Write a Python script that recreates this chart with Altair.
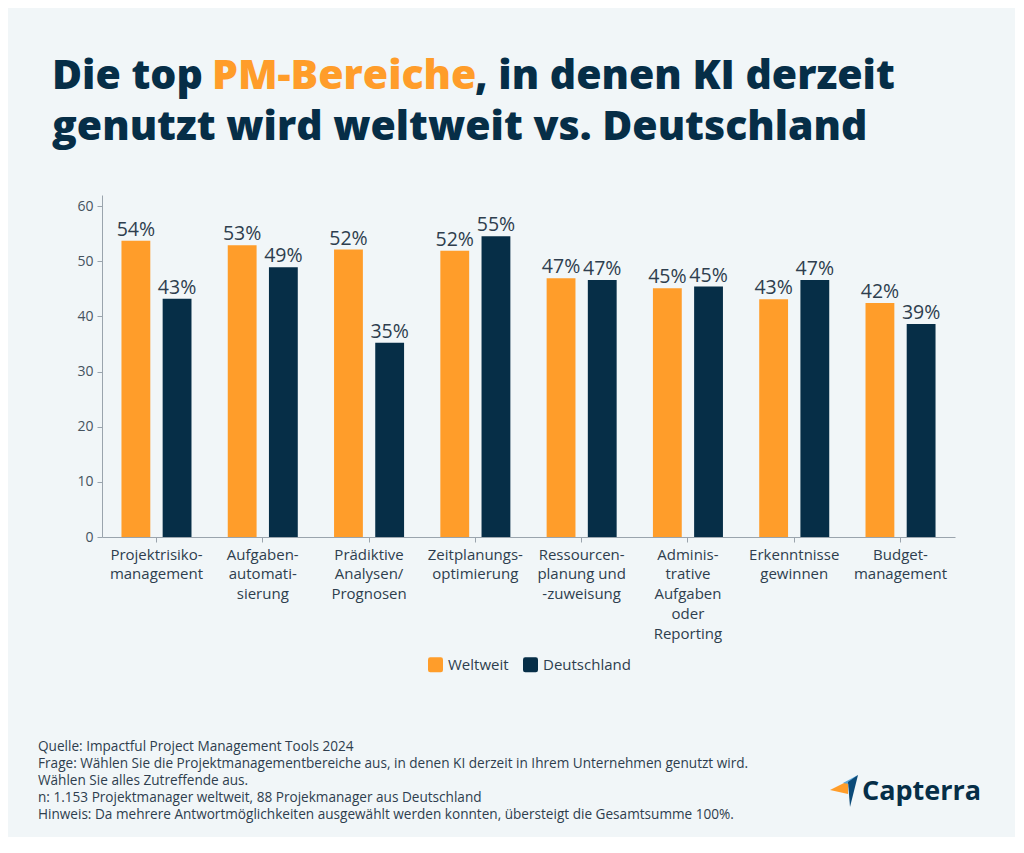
import altair as alt
import pandas as pd

categories = [
    "Projektrisiko-\nmanagement",
    "Aufgaben-\nautomati-\nsierung",
    "Prädiktive\nAnalysen/\nPrognosen",
    "Zeitplanungs-\noptimierung",
    "Ressourcen-\nplanung und\n-zuweisung",
    "Adminis-\ntrative\nAufgaben\noder\nReporting",
    "Erkenntnisse\ngewinnen",
    "Budget-\nmanagement",
]
series = ["Weltweit", "Deutschland"]
weltweit = [53.7, 52.9, 52.1, 51.9, 46.9, 45.1, 43.1, 42.4]
deutschland = [43.2, 48.9, 35.2, 54.5, 46.6, 45.4, 46.6, 38.6]
weltweit_labels = ["54%", "53%", "52%", "52%", "47%", "45%", "43%", "42%"]
deutschland_labels = ["43%", "49%", "35%", "55%", "47%", "45%", "47%", "39%"]
y_ticks = [0, 10, 20, 30, 40, 50, 60]

title_line1 = ["Die top ", "PM-Bereiche", ", in denen KI derzeit"]
title_line2 = "genutzt wird weltweit vs. Deutschland"
footer_lines = [
    "Quelle: Impactful Project Management Tools 2024",
    "Frage: Wählen Sie die Projektmanagementbereiche aus, in denen KI derzeit in Ihrem Unternehmen genutzt wird.",
    "Wählen Sie alles Zutreffende aus.",
    "n: 1.153 Projektmanager weltweit, 88 Projekmanager aus Deutschland",
    "Hinweis: Da mehrere Antwortmöglichkeiten ausgewählt werden konnten, übersteigt die Gesamtsumme 100%.",
]
brand = "Capterra"

ORANGE = "#FF9D2A"
NAVY = "#062E47"
TEXT = "#2E3E4E"
BG = "#F1F6F8"
FONT = "Open Sans"

rows = []
for i, c in enumerate(categories):
    rows.append({"cat": c, "series": "Weltweit", "value": weltweit[i], "label": weltweit_labels[i]})
    rows.append({"cat": c, "series": "Deutschland", "value": deutschland[i], "label": deutschland_labels[i]})
df = pd.DataFrame(rows)

W, H = 853, 342

rounded = "M-0.7,-1 L0.7,-1 Q1,-1 1,-0.7 L1,0.7 Q1,1 0.7,1 L-0.7,1 Q-1,1 -1,0.7 L-1,-0.7 Q-1,-1 -0.7,-1 Z"

x_enc = alt.X(
    "cat:N",
    sort=categories,
    scale=alt.Scale(paddingInner=0.225, paddingOuter=0.125),
    axis=alt.Axis(
        title=None,
        labelAngle=0,
        labelExpr="split(datum.label, '\\n')",
        labelFont=FONT,
        labelFontSize=15,
        labelColor=TEXT,
        labelLineHeight=19.8,
        labelBaseline="top",
        labelPadding=5,
        labelOverlap=False,
        tickSize=5,
        tickColor="#9AA4AD",
        domainColor="#9AA4AD",
        labelLimit=200,
    ),
)
y_enc = alt.Y(
    "value:Q",
    scale=alt.Scale(domain=[0, 62], nice=False),
    axis=alt.Axis(
        title=None,
        values=y_ticks,
        grid=False,
        labelFont=FONT,
        labelFontSize=14,
        labelColor="#45535F",
        labelPadding=4,
        tickSize=5,
        tickColor="#9AA4AD",
        domainColor="#9AA4AD",
    ),
)
xoff = alt.XOffset("series:N", sort=series, scale=alt.Scale(paddingInner=0.3, paddingOuter=0.15))

bars = alt.Chart(df).mark_bar().encode(
    x=x_enc,
    xOffset=xoff,
    y=y_enc,
    color=alt.Color(
        "series:N",
        sort=series,
        scale=alt.Scale(domain=series, range=[ORANGE, NAVY]),
        legend=alt.Legend(
            title=None,
            orient="none",
            direction="horizontal",
            legendX=326,
            legendY=462,
            symbolType=rounded,
            symbolSize=225,
            symbolStrokeWidth=0,
            labelFont=FONT,
            labelFontSize=15,
            labelColor=TEXT,
            labelOffset=5,
            columnPadding=14,
            padding=0,
        ),
    ),
)

labels = alt.Chart(df).mark_text(
    baseline="alphabetic", dy=-5, font=FONT, fontSize=19.5, color=TEXT
).encode(x=alt.X("cat:N", sort=categories), xOffset=xoff, y="value:Q", text="label:N")

def text_layer(txt, x, y, size, color, weight="normal", align="left", baseline="alphabetic"):
    return alt.Chart(pd.DataFrame({"t": [txt]})).mark_text(
        align=align, baseline=baseline, font=FONT, fontSize=size, fontWeight=weight, color=color
    ).encode(x=alt.value(x), y=alt.value(y), text="t:N")

TS = 41
t1a = text_layer(title_line1[0], -50, -106, TS, NAVY, 800)
t1b = text_layer(title_line1[1], 110, -106, TS, ORANGE, 800)
t1c = text_layer(title_line1[2], 373, -106, TS, NAVY, 800)
t2 = text_layer(title_line2, -50, -55, TS, NAVY, 800)

footers = [text_layer(line, -64, 552 + 17 * i, 13.6, TEXT, baseline="middle") for i, line in enumerate(footer_lines)]

logo_text = text_layer(brand, 760, 597, 27, NAVY, 700, baseline="middle")

def shape_layer(path, x, y, color):
    return alt.Chart(pd.DataFrame({"k": [0]})).mark_point(
        shape=path, filled=True, size=4, color=color, opacity=1, strokeWidth=0
    ).encode(x=alt.value(x), y=alt.value(y))

# Capterra-like icon (decorative), paths in pixel units around centre
icon_x, icon_y = 743, 596
orange_wing = "M-15,-1 L3,-10 L3,3 Z"
blue_top = "M-2,-8 L13,-16 L4,-7 Z"
navy_blade = "M3,-9 L13,-16 L5,16 Z"
icon = [
    shape_layer(orange_wing, icon_x, icon_y, "#FF9D2A"),
    shape_layer(blue_top, icon_x, icon_y, "#5AA7DB"),
    shape_layer(navy_blade, icon_x, icon_y, "#0B4A78"),
]

chart = alt.layer(bars, labels, t1a, t1b, t1c, t2, *footers, logo_text, *icon).properties(
    width=W,
    height=H,
    background=BG,
    padding={"left": 94, "top": 187, "right": 60, "bottom": 300},
    autosize=alt.AutoSizeParams(type="none"),
).configure_view(stroke=None)

chart.save("out.html", embed_options={"renderer": "svg", "actions": False})
